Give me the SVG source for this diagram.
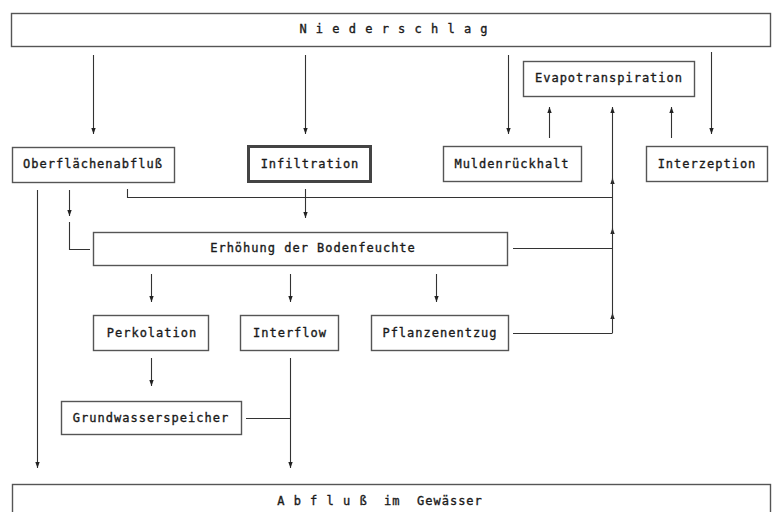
<svg xmlns="http://www.w3.org/2000/svg" width="772" height="512" viewBox="0 0 772 512">
<defs>
<marker id="ah" viewBox="0 0 8 6" refX="8" refY="3" markerWidth="8" markerHeight="6" markerUnits="userSpaceOnUse" orient="auto">
<path d="M2,0.8 L8,3 L2,5.2 Z" fill="#222"/>
</marker>
<style>
.box{fill:#fff;stroke:#555;stroke-width:1.4}
.thick{fill:#fff;stroke:#444;stroke-width:3}
.t{font-family:"DejaVu Sans Mono","Liberation Mono",monospace;font-size:12px;letter-spacing:1px;fill:#1a1a1a;stroke:#1a1a1a;stroke-width:0.35;text-anchor:middle;white-space:pre}
.c line,.c polyline{stroke:#333;stroke-width:1.1;fill:none}
.a{marker-end:url(#ah)}
</style>
</defs>
<rect width="772" height="512" fill="#fff"/>
<g id="niederschlag"><rect class="box" x="11.5" y="13.5" width="759" height="33"/><text class="t" x="394" y="33" xml:space="preserve">N i e d e r s c h l a g</text></g>
<g id="evapotranspiration"><rect class="box" x="523.5" y="61.5" width="171" height="35"/><text class="t" x="609" y="82">Evapotranspiration</text></g>
<g id="oberflaechenabfluss"><rect class="box" x="12.5" y="147.5" width="162" height="35"/><text class="t" x="93" y="168">Oberflächenabfluß</text></g>
<g id="infiltration"><rect class="thick" x="248.5" y="146.5" width="122" height="35"/><text class="t" x="310" y="168">Infiltration</text></g>
<g id="muldenrueckhalt"><rect class="box" x="443.5" y="146.5" width="138" height="35"/><text class="t" x="512" y="168">Muldenrückhalt</text></g>
<g id="interzeption"><rect class="box" x="646.5" y="146.5" width="121" height="35"/><text class="t" x="707" y="168">Interzeption</text></g>
<g id="bodenfeuchte"><rect class="box" x="93.5" y="232.5" width="414" height="33"/><text class="t" x="313" y="252">Erhöhung der Bodenfeuchte</text></g>
<g id="perkolation"><rect class="box" x="93.5" y="315.5" width="115" height="35"/><text class="t" x="152" y="337">Perkolation</text></g>
<g id="interflow"><rect class="box" x="240.5" y="315.5" width="98" height="35"/><text class="t" x="290" y="337">Interflow</text></g>
<g id="pflanzenentzug"><rect class="box" x="371.5" y="315.5" width="137" height="35"/><text class="t" x="440" y="337">Pflanzenentzug</text></g>
<g id="grundwasserspeicher"><rect class="box" x="61.5" y="401.5" width="180" height="33"/><text class="t" x="151" y="422">Grundwasserspeicher</text></g>
<g id="abfluss"><rect class="box" x="12.5" y="484.5" width="758" height="40"/><text class="t" x="380" y="505" xml:space="preserve">A b f l u ß  im  Gewässer</text></g>
<g class="c" id="connectors">
<line class="a" x1="93.5" y1="55" x2="93.5" y2="134"/>
<line class="a" x1="305.5" y1="55" x2="305.5" y2="134"/>
<line class="a" x1="508.5" y1="55" x2="508.5" y2="134"/>
<line class="a" x1="711.5" y1="52" x2="711.5" y2="134"/>
<line class="a" x1="549.5" y1="138" x2="549.5" y2="107"/>
<line class="a" x1="671.5" y1="138" x2="671.5" y2="107"/>
<line class="a" x1="612.5" y1="333" x2="612.5" y2="313"/>
<line class="a" x1="612.5" y1="319" x2="612.5" y2="228"/>
<line class="a" x1="612.5" y1="234" x2="612.5" y2="178"/>
<line class="a" x1="612.5" y1="184" x2="612.5" y2="107"/>
<polyline points="127.5,189 127.5,197.5 612.5,197.5"/>
<line class="a" x1="305.5" y1="189" x2="305.5" y2="218"/>
<line class="a" x1="69.5" y1="190" x2="69.5" y2="216"/>
<polyline points="69.5,222 69.5,249.5 90,249.5"/>
<line class="a" x1="37.5" y1="190" x2="37.5" y2="468"/>
<line x1="513" y1="248.5" x2="612.5" y2="248.5"/>
<line class="a" x1="151.5" y1="274" x2="151.5" y2="302"/>
<line class="a" x1="290.5" y1="274" x2="290.5" y2="302"/>
<line class="a" x1="436.5" y1="274" x2="436.5" y2="302"/>
<line x1="513" y1="333.5" x2="612.5" y2="333.5"/>
<line class="a" x1="151.5" y1="358" x2="151.5" y2="386"/>
<line class="a" x1="290.5" y1="358" x2="290.5" y2="468"/>
<line x1="246" y1="418.5" x2="290.5" y2="418.5"/>
</g>
</svg>
